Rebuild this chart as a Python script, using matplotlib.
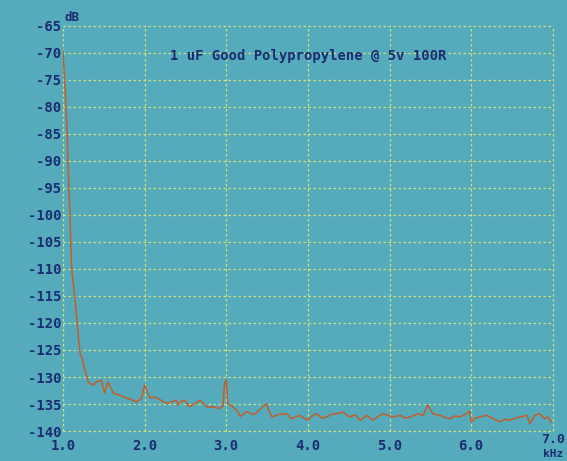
import matplotlib
matplotlib.use("Agg")
import matplotlib.pyplot as plt

# Spectrum readout, frequency in kHz, level in dB
freq_khz = [1.0, 1.01, 1.037, 1.053, 1.06, 1.073, 1.086, 1.095, 1.107, 1.15,
            1.18, 1.21, 1.23, 1.27, 1.31, 1.33, 1.37, 1.42, 1.47, 1.51,
            1.55, 1.62, 1.70, 1.78, 1.84, 1.90, 1.96, 2.0, 2.03, 2.065,
            2.13, 2.20, 2.27, 2.33, 2.39, 2.41, 2.45, 2.49, 2.55, 2.62,
            2.68, 2.76, 2.85, 2.92, 2.96, 2.98, 3.0, 3.02, 3.08, 3.13,
            3.17, 3.25, 3.33, 3.41, 3.49, 3.53, 3.56, 3.65, 3.74, 3.80,
            3.90, 4.0, 4.05, 4.11, 4.17, 4.23, 4.29, 4.35, 4.43, 4.51,
            4.58, 4.64, 4.72, 4.80, 4.86, 4.92, 5.04, 5.13, 5.19, 5.25,
            5.35, 5.41, 5.47, 5.53, 5.62, 5.68, 5.74, 5.80, 5.86, 5.94,
            5.98, 6.0, 6.05, 6.1, 6.19, 6.27, 6.35, 6.41, 6.47, 6.54,
            6.60, 6.68, 6.72, 6.78, 6.84, 6.90, 6.94, 6.98]
level_db = [-69.5, -72, -80, -85, -90, -95, -100, -105, -110, -116,
            -121, -125.6, -126.3, -128.8, -130.9, -131.2, -131.5, -130.8, -130.6, -133.0,
            -130.9, -133.0, -133.4, -133.9, -134.2, -134.6, -134.0, -131.5, -132.6, -133.9,
            -133.7, -134.3, -134.9, -134.6, -134.3, -135.2, -134.5, -134.3, -135.5, -134.9,
            -134.3, -135.5, -135.6, -135.8, -135.4, -131.2, -130.5, -134.9, -135.6, -136.1,
            -137.3, -136.4, -137.0, -136.1, -134.9, -136.5, -137.4, -136.9, -136.8, -137.7,
            -137.1, -138.0, -137.2, -136.8, -137.6, -137.4, -136.9, -136.8, -136.5, -137.4,
            -137.0, -138.0, -137.1, -138.0, -137.3, -136.8, -137.4, -137.1, -137.6, -137.4,
            -136.8, -137.1, -135.2, -136.8, -137.1, -137.5, -137.7, -137.2, -137.4, -136.8,
            -136.3, -138.3, -137.6, -137.4, -137.1, -137.7, -138.3, -137.8, -138.0, -137.6,
            -137.4, -137.1, -138.6, -137.1, -136.8, -137.7, -137.4, -138.3]

x_ticks = [1.0, 2.0, 3.0, 4.0, 5.0, 6.0, 7.0]
y_ticks = [-65, -70, -75, -80, -85, -90, -95, -100, -105, -110,
           -115, -120, -125, -130, -135, -140]
title = "1 uF Good Polypropylene @ 5v 100R"

BG = "#55abbb"
GRID = "#cfe27e"
INK = "#1c2c72"
TRACE = "#c25e2c"

fig = plt.figure(figsize=(5.67, 4.61), dpi=100, facecolor=BG)
ax = fig.add_axes([0.111, 0.065, 0.864, 0.879], facecolor=BG)

ax.plot(freq_khz, level_db, color=TRACE, lw=1.1)

ax.set_xlim(1.0, 7.0)
ax.set_ylim(-140, -65)
ax.set_xticks(x_ticks)
ax.set_yticks(y_ticks)
ax.set_xticklabels([f"{v:.1f}" for v in x_ticks[:-1]] + [""])
ax.set_yticklabels([str(v) for v in y_ticks])

for s in ax.spines.values():
    s.set_visible(False)
ax.tick_params(axis="y", length=0, colors=INK, labelsize=10, pad=1)
ax.tick_params(axis="x", length=0, colors=INK, labelsize=10, pad=6)
for lbl in ax.get_xticklabels() + ax.get_yticklabels():
    lbl.set_family("DejaVu Sans Mono")
    lbl.set_fontweight("bold")
ax.grid(True, color=GRID, ls=(0, (2, 2)), lw=0.9)
ax.set_axisbelow(True)
for gl in ax.get_xgridlines() + ax.get_ygridlines():
    gl.set_clip_on(False)

txt = dict(color=INK, family="DejaVu Sans Mono", fontweight="bold")
ax.text(0.5, 0.925, title, transform=ax.transAxes, ha="center", va="center",
        fontsize=10, **txt)
fig.text(0.113, 0.962, "dB", ha="left", va="center", fontsize=9, **txt)
fig.text(0.975, 0.047, "7.0", ha="center", va="center", fontsize=9.5, **txt)
fig.text(0.975, 0.015, "kHz", ha="center", va="center", fontsize=8, **txt)

fig.savefig("out.png", dpi=100, facecolor=BG)
